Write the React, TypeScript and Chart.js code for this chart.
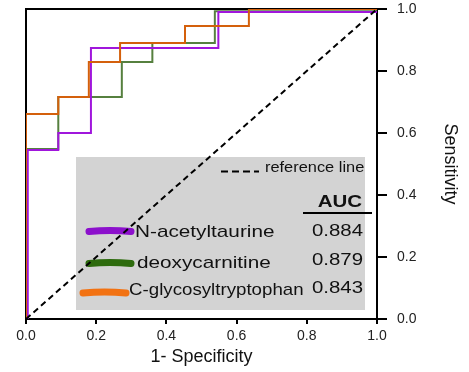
import React, { useEffect, useRef } from 'react';
import { Chart, registerables } from 'chart.js';

Chart.register(...registerables);

// ---- data ----
const seriesNames = ['N-acetyltaurine', 'deoxycarnitine', 'C-glycosyltryptophan'];
const aucValues = ['0.884', '0.879', '0.843'];
const lineColors = ['#a016dc', '#56803f', '#d4600c'];
const brushColors = ['#8c10cc', '#2e6b0e', '#f27212'];

const nAcetyltaurineFpr = [0.005, 0.005, 0.092, 0.092, 0.185, 0.185, 0.548, 0.548, 1];
const nAcetyltaurineTpr = [0, 0.545, 0.545, 0.6, 0.6, 0.874, 0.874, 0.99, 0.99];

const deoxycarnitineFpr = [0, 0, 0.092, 0.092, 0.273, 0.273, 0.36, 0.36, 0.538, 0.538, 1];
const deoxycarnitineTpr = [0, 0.548, 0.548, 0.716, 0.716, 0.829, 0.829, 0.89, 0.89, 0.993, 0.993];

const cGlycosylFpr = [0, 0, 0.092, 0.092, 0.179, 0.179, 0.268, 0.268, 0.453, 0.453, 0.635, 0.635, 1];
const cGlycosylTpr = [0, 0.661, 0.661, 0.716, 0.716, 0.829, 0.829, 0.89, 0.89, 0.945, 0.945, 1, 1];

const referenceX = [0, 1];
const referenceY = [0, 1];

const xTickLabels = ['0.0', '0.2', '0.4', '0.6', '0.8', '1.0'];
const yTickLabels = ['0.0', '0.2', '0.4', '0.6', '0.8', '1.0'];

const FONT = '"Liberation Sans", Arial, Helvetica, sans-serif';

function toPoints(xs: number[], ys: number[]) {
  return xs.map((x, i) => ({ x, y: ys[i] }));
}

function stretchText(
  ctx: CanvasRenderingContext2D,
  text: string,
  x: number,
  y: number,
  font: string,
  align: CanvasTextAlign,
  sx: number,
  color: string
) {
  ctx.save();
  ctx.font = font;
  ctx.fillStyle = color;
  ctx.textAlign = align;
  ctx.textBaseline = 'alphabetic';
  ctx.translate(x, y);
  ctx.scale(sx, 1);
  ctx.fillText(text, 0, 0);
  ctx.restore();
}

const framePlugin = {
  id: 'frameAndLegend',
  beforeDatasetsDraw(chart: any) {
    const { ctx, chartArea } = chart;
    const { left, right, top, bottom } = chartArea;
    ctx.save();
    // legend panel
    ctx.fillStyle = '#d3d3d3';
    ctx.fillRect(76, 157, 289, 153);

    // frame top + left
    ctx.strokeStyle = '#000';
    ctx.lineWidth = 2;
    ctx.beginPath();
    ctx.moveTo(left, bottom);
    ctx.lineTo(left, top);
    ctx.lineTo(right, top);
    ctx.stroke();

    // reference line sample
    ctx.setLineDash([7, 4]);
    ctx.beginPath();
    ctx.moveTo(221, 171.5);
    ctx.lineTo(259, 171.5);
    ctx.stroke();
    ctx.setLineDash([]);
    stretchText(ctx, 'reference line', 265, 172, `14px ${FONT}`, 'left', 1.17, '#111');

    // AUC header
    stretchText(ctx, 'AUC', 362, 206.5, `bold 16px ${FONT}`, 'right', 1.28, '#111');
    ctx.beginPath();
    ctx.lineWidth = 2;
    ctx.moveTo(303, 213);
    ctx.lineTo(372, 213);
    ctx.stroke();

    // legend rows
    const brushX = [[89, 131], [89, 131], [83, 126]];
    const brushY = [231, 263, 292.5];
    const nameX = [135, 137, 129];
    const nameY = [236.5, 268, 295];
    const nameSx = [1.22, 1.22, 1.1];
    const valY = [235.5, 265, 293];
    for (let i = 0; i < seriesNames.length; i++) {
      ctx.strokeStyle = brushColors[i];
      ctx.lineWidth = 7;
      ctx.lineCap = 'round';
      ctx.beginPath();
      const [x1, x2] = brushX[i];
      const y = brushY[i];
      ctx.moveTo(x1, y + 0.5);
      ctx.quadraticCurveTo((x1 + x2) / 2, y - 1.5, x2, y + 0.5);
      ctx.stroke();
      stretchText(ctx, seriesNames[i], nameX[i], nameY[i], `17px ${FONT}`, 'left', nameSx[i], '#111');
      stretchText(ctx, aucValues[i], 363, valY[i], `17px ${FONT}`, 'right', 1.2, '#111');
    }
    ctx.restore();
  },
};

export default function App() {
  const canvasRef = useRef<HTMLCanvasElement | null>(null);

  useEffect(() => {
    if (!canvasRef.current) return;
    const chart = new Chart(canvasRef.current, {
      type: 'line',
      data: {
        datasets: [
          {
            label: 'reference line',
            data: toPoints(referenceX, referenceY),
            borderColor: '#000',
            borderWidth: 2,
            borderDash: [6, 4],
            pointRadius: 0,
            fill: false,
            order: 0,
          },
          {
            label: seriesNames[2],
            data: toPoints(cGlycosylFpr, cGlycosylTpr),
            borderColor: lineColors[2],
            borderWidth: 2,
            pointRadius: 0,
            fill: false,
            order: 1,
          },
          {
            label: seriesNames[0],
            data: toPoints(nAcetyltaurineFpr, nAcetyltaurineTpr),
            borderColor: lineColors[0],
            borderWidth: 2,
            pointRadius: 0,
            fill: false,
            order: 2,
          },
          {
            label: seriesNames[1],
            data: toPoints(deoxycarnitineFpr, deoxycarnitineTpr),
            borderColor: lineColors[1],
            borderWidth: 2,
            pointRadius: 0,
            fill: false,
            order: 3,
          },
        ],
      },
      options: {
        animation: false,
        responsive: false,
        maintainAspectRatio: false,
        layout: { padding: { left: 26, top: 9, right: 0, bottom: 0 } },
        plugins: {
          legend: { display: false },
          tooltip: { enabled: false },
        },
        elements: { line: { tension: 0 }, point: { radius: 0 } },
        scales: {
          x: {
            type: 'linear',
            position: 'bottom',
            min: 0,
            max: 1,
            afterFit: (s: any) => {
              s.height = 53;
              s.paddingLeft = 0;
              s.paddingRight = 0;
            },
            ticks: {
              stepSize: 0.2,
              autoSkip: false,
              maxRotation: 0,
              padding: 4,
              color: '#222',
              font: { family: FONT, size: 14 },
              callback: (_v: any, i: number) => xTickLabels[i],
            },
            grid: {
              drawOnChartArea: false,
              drawTicks: true,
              tickLength: 5,
              color: '#000',
              lineWidth: 2,
            },
            border: { display: true, color: '#000', width: 2 },
            title: {
              display: true,
              text: '1- Specificity',
              color: '#111',
              font: { family: FONT, size: 18 },
              padding: { top: 0, bottom: 4 },
            },
          },
          y: {
            type: 'linear',
            position: 'right',
            min: 0,
            max: 1,
            afterFit: (s: any) => {
              s.width = 92;
              s.paddingTop = 0;
              s.paddingBottom = 0;
            },
            ticks: {
              stepSize: 0.2,
              autoSkip: false,
              padding: 10,
              color: '#222',
              font: { family: FONT, size: 14 },
              callback: (_v: any, i: number) => yTickLabels[i],
            },
            grid: {
              drawOnChartArea: false,
              drawTicks: true,
              tickLength: 10,
              color: '#000',
              lineWidth: 2,
            },
            border: { display: true, color: '#000', width: 2 },
            title: {
              display: true,
              text: 'Sensitivity',
              color: '#111',
              font: { family: FONT, size: 18 },
              padding: { top: 8, bottom: 0 },
            },
          },
        },
      },
      plugins: [framePlugin],
    } as any);
    return () => chart.destroy();
  }, []);

  return (
    <div style={{ position: 'absolute', left: 0, top: 0, width: 469, height: 372, background: '#fff' }}>
      <canvas ref={canvasRef} width={469} height={372} style={{ display: 'block' }} />
    </div>
  );
}
